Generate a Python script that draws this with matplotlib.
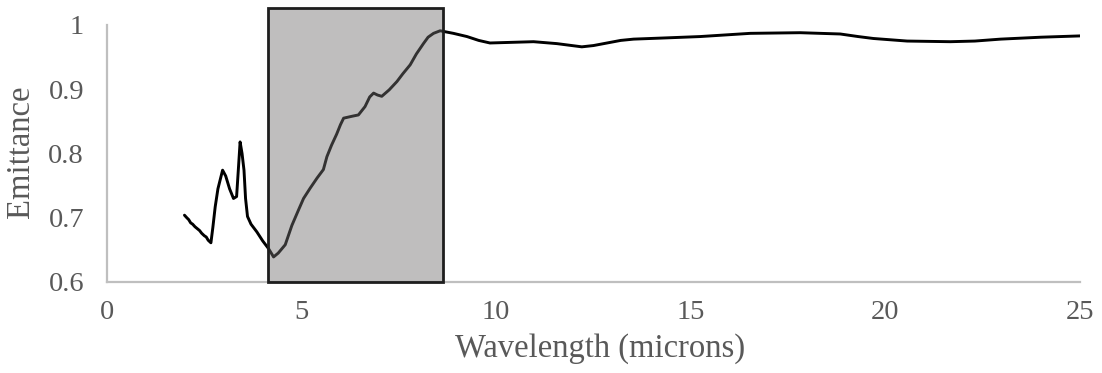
import matplotlib
matplotlib.use("Agg")
import matplotlib.pyplot as plt
from matplotlib.patches import Rectangle

# Emittance spectrum
wavelength = [1.99, 2.05, 2.10, 2.15, 2.20, 2.26, 2.32, 2.38, 2.43, 2.50, 2.55, 2.60, 2.67,
              2.72, 2.78, 2.85, 2.97, 3.05, 3.15, 3.25, 3.33, 3.38, 3.42, 3.47, 3.52, 3.56,
              3.61, 3.70, 3.85, 4.00, 4.15, 4.28, 4.40, 4.58, 4.75, 4.92, 5.05, 5.22, 5.40,
              5.56, 5.65, 5.77, 5.90, 6.00, 6.08, 6.30, 6.46, 6.63, 6.75, 6.85, 6.95, 7.06,
              7.25, 7.45, 7.60, 7.79, 7.95, 8.13, 8.25, 8.39, 8.56, 8.90, 9.25, 9.55, 9.84,
              10.40, 10.96, 11.56, 12.20, 12.50, 12.85, 13.20, 13.53, 14.40, 15.24, 16.53,
              17.81, 18.84, 19.30, 19.69, 20.56, 21.67, 22.30, 22.96, 24.00, 25.00]
emittance = [0.704, 0.700, 0.697, 0.692, 0.690, 0.686, 0.683, 0.680, 0.676, 0.672, 0.670,
             0.665, 0.661, 0.685, 0.717, 0.745, 0.774, 0.765, 0.745, 0.730, 0.733, 0.780,
             0.818, 0.800, 0.774, 0.730, 0.702, 0.690, 0.678, 0.664, 0.652, 0.639, 0.645,
             0.658, 0.688, 0.712, 0.730, 0.746, 0.762, 0.775, 0.795, 0.813, 0.830, 0.845,
             0.855, 0.858, 0.860, 0.873, 0.888, 0.894, 0.891, 0.889, 0.899, 0.912, 0.924,
             0.938, 0.955, 0.971, 0.981, 0.987, 0.991, 0.987, 0.982, 0.976, 0.972, 0.973,
             0.974, 0.971, 0.966, 0.968, 0.972, 0.976, 0.978, 0.980, 0.982, 0.987, 0.988,
             0.986, 0.982, 0.979, 0.975, 0.974, 0.975, 0.978, 0.981, 0.983]

# Highlighted band
band_start, band_end = 4.14, 8.64
band_top = 1.026

x_ticks = [0, 5, 10, 15, 20, 25]
y_ticks = [0.6, 0.7, 0.8, 0.9, 1.0]
y_tick_labels = ["0.6", "0.7", "0.8", "0.9", "1"]

plt.rcParams["font.family"] = ["Liberation Serif", "DejaVu Serif"]
text_color = "#595959"

fig = plt.figure(figsize=(11.02, 3.73), dpi=100)
ax = fig.add_axes([0.0971, 0.244, 0.8829, 0.689])

ax.plot(wavelength, emittance, color="black", lw=2.1, zorder=2,
        solid_joinstyle="round", solid_capstyle="round")

# translucent fill over the curve, opaque outline
ax.add_patch(Rectangle((band_start, 0.6), band_end - band_start, band_top - 0.6,
                       facecolor="#727070", alpha=0.45, edgecolor="none",
                       zorder=3, clip_on=False))
ax.add_patch(Rectangle((band_start, 0.6), band_end - band_start, band_top - 0.6,
                       facecolor="none", edgecolor="#1e1e1e", lw=2.0,
                       zorder=4, clip_on=False))

ax.set_xlim(0, 25)
ax.set_ylim(0.6, 1.0)
ax.set_xticks(x_ticks)
ax.set_yticks(y_ticks)
ax.set_yticklabels(y_tick_labels)

for s in ["top", "right"]:
    ax.spines[s].set_visible(False)
for s in ["left", "bottom"]:
    ax.spines[s].set_color("#BFBFBF")
    ax.spines[s].set_linewidth(1.6)
    ax.spines[s].set_zorder(1)

ax.tick_params(axis="both", length=0, labelsize=20.5, colors=text_color)
ax.tick_params(axis="y", pad=16.5)
ax.tick_params(axis="x", pad=13)

fig.text(600 / 1102, 1 - 357 / 373, "Wavelength (microns)", fontsize=23.5,
         color=text_color, ha="center", va="baseline")
fig.text(21 / 1102, 1 - 152 / 373, "Emittance", fontsize=23.5, rotation=90,
         color=text_color, ha="center", va="center")

fig.savefig("out.png", dpi=100)
